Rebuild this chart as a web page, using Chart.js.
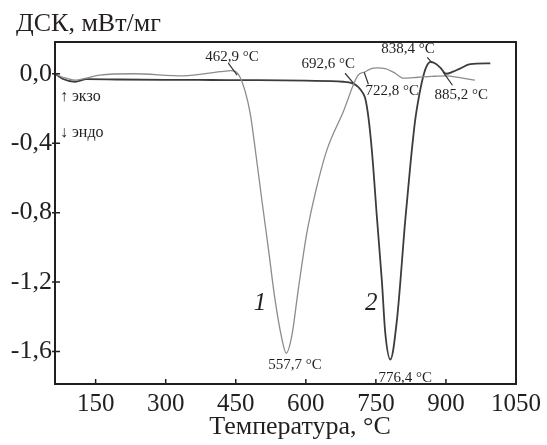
<!DOCTYPE html>
<html>
<head>
<meta charset="utf-8">
<script src="https://cdn.jsdelivr.net/npm/chart.js@4.4.1/dist/chart.umd.min.js"></script>
<style>
    body { margin: 0; background: #fff; }
    #wrap { width: 547px; height: 445px; }
</style>
</head>
<body>
<div id="wrap"><canvas id="myChart" width="547" height="445"></canvas></div>
<script>
// curve 1 (light grey)
const temps1 = [63, 80, 106, 130, 159, 230, 338, 417, 440, 455, 470, 481, 490, 506, 520, 534, 549, 558, 570, 584, 602, 620, 645, 680, 712, 726, 740, 752, 770, 790, 809, 840, 870, 900, 930, 962];
const dsc1 = [0.0, -0.02, -0.037, -0.025, -0.008, 0.0, -0.012, 0.012, 0.018, 0.0, -0.10, -0.23, -0.40, -0.73, -1.01, -1.30, -1.53, -1.61, -1.51, -1.24, -0.92, -0.69, -0.44, -0.22, -0.008, 0.01, 0.03, 0.034, 0.03, 0.005, -0.025, -0.02, -0.015, -0.012, -0.022, -0.037];

// curve 2 (dark)
const temps2 = [63, 80, 106, 131, 200, 300, 400, 500, 600, 680, 700, 712, 722, 727, 734, 742, 752, 763, 770, 781, 795, 813, 824, 834, 841, 850, 858, 868, 878, 888, 900, 915, 930, 952, 995];
const dsc2 = [0.0, -0.03, -0.046, -0.031, -0.033, -0.035, -0.036, -0.037, -0.04, -0.046, -0.055, -0.075, -0.11, -0.14, -0.25, -0.46, -0.82, -1.2, -1.49, -1.646, -1.42, -0.84, -0.52, -0.27, -0.15, -0.03, 0.04, 0.068, 0.058, 0.035, 0.0, 0.012, 0.03, 0.055, 0.06];

const xTicks = [150, 300, 450, 600, 750, 900, 1050];
const yTicks = [0.0, -0.4, -0.8, -1.2, -1.6];

const serif = "'Liberation Serif', 'DejaVu Serif', serif";
const ink = "#231f20";

// text labels on the plot: [text, temperature, dsc, size, italic]
const notes = [
    ["462,9 °C", 442, 0.095, 15, false],
    ["692,6 °C", 648, 0.055, 15, false],
    ["722,8 °C", 785, -0.10, 15, false],
    ["838,4 °C", 819, 0.145, 15, false],
    ["885,2 °C", 933, -0.123, 15, false],
    ["557,7 °C", 577, -1.68, 15, false],
    ["776,4 °C", 813, -1.75, 15, false],
    ["1", 502, -1.32, 25, true],
    ["2", 740, -1.32, 25, true],
];
// little leader lines [t1, v1, t2, v2]
const leaders = [
    [434, 0.061, 453, -0.008],
    [684, 0.003, 702, -0.054],
    [725, 0.009, 734, -0.06],
    [860, 0.095, 871, 0.061],
    [894, 0.009, 914, -0.066],
];

function toPoints(xs, ys) {
    return xs.map((x, i) => ({ x: x, y: ys[i] }));
}

const framePlugin = {
    id: "frame",
    afterDatasetsDraw(chart) {
        const ctx = chart.ctx;
        const a = chart.chartArea;
        const xs = chart.scales.x;
        const ys = chart.scales.y;
        ctx.save();
        ctx.strokeStyle = ink;
        ctx.lineWidth = 2;
        ctx.strokeRect(a.left, a.top, a.right - a.left, a.bottom - a.top);
        ctx.lineWidth = 1.5;
        ctx.beginPath();
        xTicks.forEach(t => {
            if (t >= xs.max) return;
            const px = xs.getPixelForValue(t);
            ctx.moveTo(px, a.bottom);
            ctx.lineTo(px, a.bottom - 5);
        });
        yTicks.forEach(v => {
            const py = ys.getPixelForValue(v);
            ctx.moveTo(a.left - 3, py);
            ctx.lineTo(a.left + 5, py);
        });
        ctx.stroke();

        // leaders
        ctx.lineWidth = 1.2;
        ctx.strokeStyle = "#333";
        ctx.beginPath();
        leaders.forEach(l => {
            ctx.moveTo(xs.getPixelForValue(l[0]), ys.getPixelForValue(l[1]));
            ctx.lineTo(xs.getPixelForValue(l[2]), ys.getPixelForValue(l[3]));
        });
        ctx.stroke();

        // notes
        ctx.fillStyle = ink;
        ctx.textAlign = "center";
        ctx.textBaseline = "middle";
        notes.forEach(n => {
            ctx.font = (n[4] ? "italic " : "") + n[3] + "px " + serif;
            ctx.fillText(n[0], xs.getPixelForValue(n[1]), ys.getPixelForValue(n[2]));
        });

        // x title, a bit right of the plot centre as in the original
        ctx.font = "26px " + serif;
        ctx.fillText("Температура, °С", 300, 427);

        // exo / endo marks
        ctx.textAlign = "left";
        ctx.font = "16px " + serif;
        ctx.fillText("↑ экзо", a.left + 5, ys.getPixelForValue(-0.134));
        ctx.fillText("↓ эндо", a.left + 5, ys.getPixelForValue(-0.34));

        // y title
        ctx.font = "26px " + serif;
        ctx.fillText("ДСК, мВт/мг", 16, 24);
        ctx.restore();
    }
};

let buildChart = function () {
    const ctx = document.getElementById("myChart");
    new Chart(ctx, {
        type: "line",
        data: {
            datasets: [
                {
                    label: "1",
                    data: toPoints(temps1, dsc1),
                    borderColor: "#8c8c8c",
                    borderWidth: 1.3,
                    pointRadius: 0,
                    cubicInterpolationMode: "monotone",
                },
                {
                    label: "2",
                    data: toPoints(temps2, dsc2),
                    borderColor: "#3c3c3c",
                    borderWidth: 1.8,
                    pointRadius: 0,
                    cubicInterpolationMode: "monotone",
                },
            ],
        },
        options: {
            responsive: false,
            animation: false,
            layout: { padding: { top: 42, right: 31, left: 0, bottom: 0 } },
            plugins: {
                legend: { display: false },
                tooltip: { enabled: false },
            },
            scales: {
                x: {
                    type: "linear",
                    min: 63,
                    max: 1050,
                    afterFit: s => { s.height = 61; },
                    afterBuildTicks: s => { s.ticks = xTicks.map(v => ({ value: v })); },
                    grid: { display: false, drawTicks: false },
                    border: { display: false },
                    ticks: {
                        color: ink,
                        padding: 5,
                        autoSkip: false,
                        maxRotation: 0,
                        font: { family: serif, size: 25 },
                        callback: v => String(v),
                    },
                },
                y: {
                    min: -1.787,
                    max: 0.183,
                    afterFit: s => { s.width = 55; },
                    afterBuildTicks: s => { s.ticks = yTicks.map(v => ({ value: v })); },
                    grid: { display: false, drawTicks: false },
                    border: { display: false },
                    ticks: {
                        color: ink,
                        padding: 3,
                        font: { family: serif, size: 26 },
                        callback: v => v.toFixed(1).replace("-0.0", "0.0").replace(".", ","),
                    },
                },
            },
        },
        plugins: [framePlugin],
    });
};

buildChart();
</script>
</body>
</html>
